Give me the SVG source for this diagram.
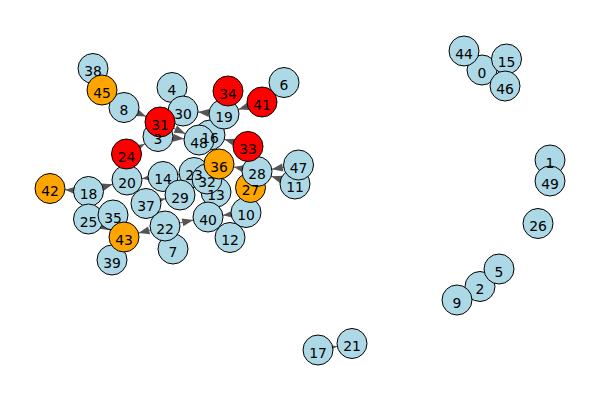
<svg xmlns="http://www.w3.org/2000/svg" width="600" height="400" viewBox="0 0 600 400">
<style>
.e{stroke:#555;stroke-width:1;fill:none;marker-end:url(#ah)}
.n circle{stroke:#000;stroke-width:1}
.b{fill:#ADD8E6}.o{fill:#FFA500}.r{fill:#FF0000}
.lbl text{font-family:"DejaVu Sans","Liberation Sans",sans-serif;font-size:13.9px;text-anchor:middle;fill:#000}
</style>
<defs>
<marker id="ah" markerUnits="userSpaceOnUse" orient="auto" refX="0" refY="0" markerWidth="30" markerHeight="10" overflow="visible" style="overflow:visible">
<path d="M-15,0 L-26,-4 L-26,4 Z" fill="#555"/>
</marker>
</defs>
<rect width="600" height="400" fill="#fff"/>
<g id="edges">
<line class="e" x1="124" y1="107.5" x2="160" y2="122"/>
<line class="e" x1="102" y1="90" x2="124" y2="107.5"/>
<line class="e" x1="93" y1="68.5" x2="102" y2="90"/>
<line class="e" x1="172" y1="87.5" x2="183" y2="111"/>
<line class="e" x1="183" y1="111" x2="160" y2="122"/>
<line class="e" x1="126.5" y1="154" x2="158" y2="136.5"/>
<line class="e" x1="158" y1="136.5" x2="199" y2="140"/>
<line class="e" x1="160" y1="122" x2="199" y2="140"/>
<line class="e" x1="224" y1="114" x2="183" y2="111"/>
<line class="e" x1="228" y1="91" x2="224" y2="114"/>
<line class="e" x1="262" y1="102" x2="224" y2="114"/>
<line class="e" x1="284" y1="82.5" x2="262" y2="102"/>
<line class="e" x1="248" y1="146.5" x2="210" y2="135"/>
<line class="e" x1="210" y1="135" x2="199" y2="140"/>
<line class="e" x1="257" y1="171.5" x2="219" y2="164"/>
<line class="e" x1="250.5" y1="187.5" x2="257" y2="171.5"/>
<line class="e" x1="298.5" y1="165" x2="257" y2="171.5"/>
<line class="e" x1="295" y1="184" x2="257" y2="171.5"/>
<line class="e" x1="246" y1="212.5" x2="208" y2="217"/>
<line class="e" x1="230" y1="237.5" x2="246" y2="212.5"/>
<line class="e" x1="216" y1="192" x2="208" y2="217"/>
<line class="e" x1="219" y1="164" x2="207" y2="179"/>
<line class="e" x1="207" y1="179" x2="194" y2="172.5"/>
<line class="e" x1="207" y1="179" x2="216" y2="192"/>
<line class="e" x1="194" y1="172.5" x2="163" y2="176.5"/>
<line class="e" x1="163" y1="176.5" x2="127" y2="180"/>
<line class="e" x1="180" y1="195" x2="163" y2="176.5"/>
<line class="e" x1="146" y1="203.5" x2="180" y2="195"/>
<line class="e" x1="126.5" y1="154" x2="127" y2="180"/>
<line class="e" x1="88.5" y1="191.5" x2="127" y2="180"/>
<line class="e" x1="88.5" y1="191.5" x2="50" y2="188.5"/>
<line class="e" x1="113" y1="215" x2="88.5" y2="219"/>
<line class="e" x1="88.5" y1="219" x2="124" y2="237"/>
<line class="e" x1="165" y1="226" x2="124" y2="237"/>
<line class="e" x1="124" y1="237" x2="112" y2="260"/>
<line class="e" x1="165" y1="226" x2="208" y2="217"/>
<line class="e" x1="146" y1="203.5" x2="165" y2="226"/>
<line class="e" x1="173" y1="249" x2="165" y2="226"/>
<line class="e" x1="318" y1="350" x2="352" y2="343.5"/>
<line class="e" x1="464" y1="51" x2="482" y2="70"/>
<line class="e" x1="482" y1="70" x2="506.5" y2="59"/>
<line class="e" x1="506.5" y1="59" x2="505" y2="86"/>
<line class="e" x1="550" y1="160" x2="550" y2="181"/>
<line class="e" x1="499" y1="269" x2="480" y2="286.5"/>
<line class="e" x1="480" y1="286.5" x2="457" y2="300"/>
</g>
<g id="nodes" class="n">
<g id="node-0"><circle class="b" cx="482" cy="70" r="15"/></g>
<g id="node-1"><circle class="b" cx="550" cy="160" r="15"/></g>
<g id="node-2"><circle class="b" cx="480" cy="286.5" r="15"/></g>
<g id="node-3"><circle class="b" cx="158" cy="136.5" r="15"/></g>
<g id="node-4"><circle class="b" cx="172" cy="87.5" r="15"/></g>
<g id="node-5"><circle class="b" cx="499" cy="269" r="15"/></g>
<g id="node-6"><circle class="b" cx="284" cy="82.5" r="15"/></g>
<g id="node-7"><circle class="b" cx="173" cy="249" r="15"/></g>
<g id="node-8"><circle class="b" cx="124" cy="107.5" r="15"/></g>
<g id="node-9"><circle class="b" cx="457" cy="300" r="15"/></g>
<g id="node-10"><circle class="b" cx="246" cy="212.5" r="15"/></g>
<g id="node-11"><circle class="b" cx="295" cy="184" r="15"/></g>
<g id="node-12"><circle class="b" cx="230" cy="237.5" r="15"/></g>
<g id="node-13"><circle class="b" cx="216" cy="192" r="15"/></g>
<g id="node-14"><circle class="b" cx="163" cy="176.5" r="15"/></g>
<g id="node-15"><circle class="b" cx="506.5" cy="59" r="15"/></g>
<g id="node-16"><circle class="b" cx="210" cy="135" r="15"/></g>
<g id="node-17"><circle class="b" cx="318" cy="350" r="15"/></g>
<g id="node-18"><circle class="b" cx="88.5" cy="191.5" r="15"/></g>
<g id="node-19"><circle class="b" cx="224" cy="114" r="15"/></g>
<g id="node-20"><circle class="b" cx="127" cy="180" r="15"/></g>
<g id="node-21"><circle class="b" cx="352" cy="343.5" r="15"/></g>
<g id="node-22"><circle class="b" cx="165" cy="226" r="15"/></g>
<g id="node-23"><circle class="b" cx="194" cy="172.5" r="15"/></g>
<g id="node-24"><circle class="r" cx="126.5" cy="154" r="15"/></g>
<g id="node-25"><circle class="b" cx="88.5" cy="219" r="15"/></g>
<g id="node-26"><circle class="b" cx="538" cy="223.5" r="15"/></g>
<g id="node-27"><circle class="o" cx="250.5" cy="187.5" r="15"/></g>
<g id="node-28"><circle class="b" cx="257" cy="171.5" r="15"/></g>
<g id="node-29"><circle class="b" cx="180" cy="195" r="15"/></g>
<g id="node-30"><circle class="b" cx="183" cy="111" r="15"/></g>
<g id="node-31"><circle class="r" cx="160" cy="122" r="15"/></g>
<g id="node-32"><circle class="b" cx="207" cy="179" r="15"/></g>
<g id="node-33"><circle class="r" cx="248" cy="146.5" r="15"/></g>
<g id="node-34"><circle class="r" cx="228" cy="91" r="15"/></g>
<g id="node-35"><circle class="b" cx="113" cy="215" r="15"/></g>
<g id="node-36"><circle class="o" cx="219" cy="164" r="15"/></g>
<g id="node-37"><circle class="b" cx="146" cy="203.5" r="15"/></g>
<g id="node-38"><circle class="b" cx="93" cy="68.5" r="15"/></g>
<g id="node-39"><circle class="b" cx="112" cy="260" r="15"/></g>
<g id="node-40"><circle class="b" cx="208" cy="217" r="15"/></g>
<g id="node-41"><circle class="r" cx="262" cy="102" r="15"/></g>
<g id="node-42"><circle class="o" cx="50" cy="188.5" r="15"/></g>
<g id="node-43"><circle class="o" cx="124" cy="237" r="15"/></g>
<g id="node-44"><circle class="b" cx="464" cy="51" r="15"/></g>
<g id="node-45"><circle class="o" cx="102" cy="90" r="15"/></g>
<g id="node-46"><circle class="b" cx="505" cy="86" r="15"/></g>
<g id="node-47"><circle class="b" cx="298.5" cy="165" r="15"/></g>
<g id="node-48"><circle class="b" cx="199" cy="140" r="15"/></g>
<g id="node-49"><circle class="b" cx="550" cy="181" r="15"/></g>
</g>
<g id="labels" class="lbl">
<text id="label-0" x="482" y="77.5">0</text>
<text id="label-1" x="550" y="167.5">1</text>
<text id="label-2" x="480" y="294">2</text>
<text id="label-3" x="158" y="144">3</text>
<text id="label-4" x="172" y="95">4</text>
<text id="label-5" x="499" y="276.5">5</text>
<text id="label-6" x="284" y="90">6</text>
<text id="label-7" x="173" y="256.5">7</text>
<text id="label-8" x="124" y="115">8</text>
<text id="label-9" x="457" y="307.5">9</text>
<text id="label-10" x="246" y="220">10</text>
<text id="label-11" x="295" y="191.5">11</text>
<text id="label-12" x="230" y="245">12</text>
<text id="label-13" x="216" y="199.5">13</text>
<text id="label-14" x="163" y="184">14</text>
<text id="label-15" x="506.5" y="66.5">15</text>
<text id="label-16" x="210" y="142.5">16</text>
<text id="label-17" x="318" y="357.5">17</text>
<text id="label-18" x="88.5" y="199">18</text>
<text id="label-19" x="224" y="121.5">19</text>
<text id="label-20" x="127" y="187.5">20</text>
<text id="label-21" x="352" y="351">21</text>
<text id="label-22" x="165" y="233.5">22</text>
<text id="label-23" x="194" y="180">23</text>
<text id="label-24" x="126.5" y="161.5">24</text>
<text id="label-25" x="88.5" y="226.5">25</text>
<text id="label-26" x="538" y="231">26</text>
<text id="label-27" x="250.5" y="195">27</text>
<text id="label-28" x="257" y="179">28</text>
<text id="label-29" x="180" y="202.5">29</text>
<text id="label-30" x="183" y="118.5">30</text>
<text id="label-31" x="160" y="129.5">31</text>
<text id="label-32" x="207" y="186.5">32</text>
<text id="label-33" x="248" y="154">33</text>
<text id="label-34" x="228" y="98.5">34</text>
<text id="label-35" x="113" y="222.5">35</text>
<text id="label-36" x="219" y="171.5">36</text>
<text id="label-37" x="146" y="211">37</text>
<text id="label-38" x="93" y="76">38</text>
<text id="label-39" x="112" y="267.5">39</text>
<text id="label-40" x="208" y="224.5">40</text>
<text id="label-41" x="262" y="109.5">41</text>
<text id="label-42" x="50" y="196">42</text>
<text id="label-43" x="124" y="244.5">43</text>
<text id="label-44" x="464" y="58.5">44</text>
<text id="label-45" x="102" y="97.5">45</text>
<text id="label-46" x="505" y="93.5">46</text>
<text id="label-47" x="298.5" y="172.5">47</text>
<text id="label-48" x="199" y="147.5">48</text>
<text id="label-49" x="550" y="188.5">49</text>
</g>
</svg>
